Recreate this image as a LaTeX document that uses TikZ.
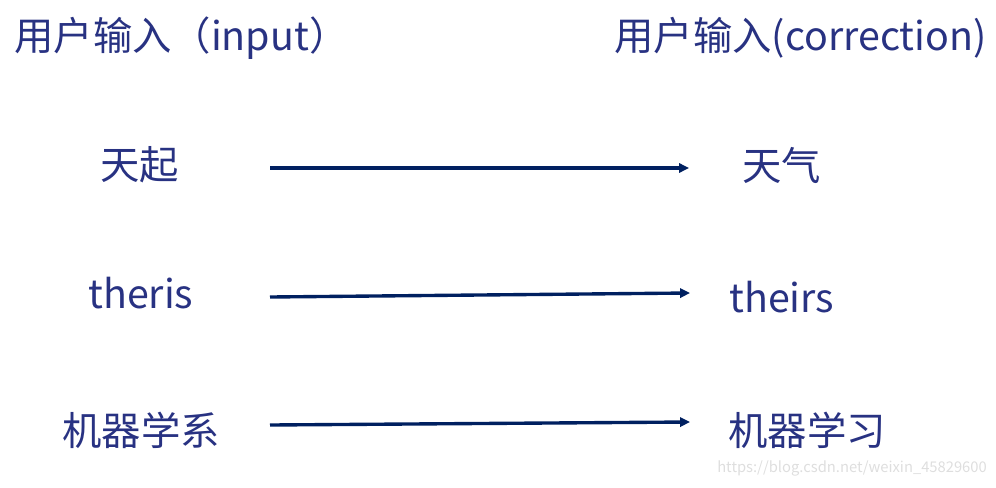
\documentclass[tikz,border=0pt]{standalone}
\usepackage{fontspec}
\newfontfamily\cjk{Noto Sans CJK SC}
\usetikzlibrary{arrows.meta}
\definecolor{txtblue}{RGB}{40,50,130}
\definecolor{arrblue}{RGB}{0,32,96}
\tikzset{
  lbl/.style={text=txtblue, font=\cjk\fontsize{28}{33}\selectfont, inner sep=0pt, anchor=west},
  corr/.style={line width=2.4pt, draw=arrblue, -{Triangle[length=7pt,width=6.5pt]}},
  wmark/.style={text=black!13, font=\cjk\fontsize{10.5}{12}\selectfont, inner sep=0pt, anchor=west}
}

\begin{document}
\begin{tikzpicture}[x=0.025cm,y=-0.025cm]
		%%%%% START %%%%%
		\useasboundingbox (0,0) rectangle (996,488);
		
		% headings
		\node[lbl] (inhead) at (14, 38) {用户输入（input）};
		\node[lbl] (outhead) at (614, 38) {用户输入(correction)};
		
		% first pair
		\node[lbl] (in1) at (100, 165) {天起};
		\node[lbl] (out1) at (742, 165) {天气};
		\coordinate (s1) at (270, 168);
		\coordinate (e1) at (689, 168);
		\draw[corr] (s1) -- (e1);
		
		% second pair
		\node[lbl] (in2) at (88, 293) {theris};
		\node[lbl] (out2) at (729, 297) {theirs};
		\coordinate (s2) at (270, 297);
		\coordinate (e2) at (690, 293);
		\draw[corr] (s2) -- (e2);
		
		% third pair
		\node[lbl] (in3) at (62, 430) {机器学系};
		\node[lbl] (out3) at (728, 430) {机器学习};
		\coordinate (s3) at (270, 425);
		\coordinate (e3) at (690, 422);
		\draw[corr] (s3) -- (e3);
		
		\node[wmark] (mark) at (717, 468) {https://blog.csdn.net/weixin\_45829600};
		%%%%% END %%%%%
\end{tikzpicture}
\end{document}
